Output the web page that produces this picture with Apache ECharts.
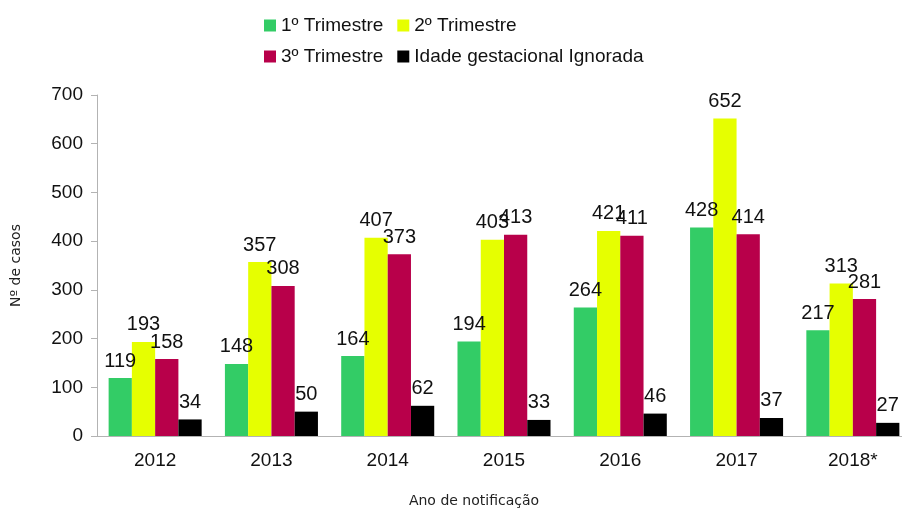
<!DOCTYPE html>
<html>
<head>
<meta charset="utf-8">
<script src="https://cdn.jsdelivr.net/npm/echarts@6/dist/echarts.min.js"></script>
<style>
  html, body { margin: 0; padding: 0; background: #fff; }
  #chart { width: 902px; height: 511px; }
</style>
</head>
<body>
<div id="chart"></div>
<script>
const years = ['2012', '2013', '2014', '2015', '2016', '2017', '2018*'];
const tri1 = [119, 148, 164, 194, 264, 428, 217];
const tri2 = [193, 357, 407, 403, 421, 652, 313];
const tri3 = [158, 308, 373, 413, 411, 414, 281];
const ignorada = [34, 50, 62, 33, 46, 37, 27];

const names = ['1º Trimestre', '2º Trimestre', '3º Trimestre', 'Idade gestacional Ignorada'];
const colors = ['#33cc66', '#e6ff00', '#b8004a', '#000000'];
const values = [tri1, tri2, tri3, ignorada];

const chart = echarts.init(document.getElementById('chart'));

const legendText = { fontFamily: 'Liberation Sans', fontSize: 19, color: '#111' };

chart.setOption({
  animation: false,
  legend: [
    {
      data: [names[0], names[1]],
      left: 259, top: 11,
      itemWidth: 12, itemHeight: 12, itemGap: 14,
      icon: 'rect',
      textStyle: legendText
    },
    {
      data: [names[2], names[3]],
      left: 259, top: 42,
      itemWidth: 12, itemHeight: 12, itemGap: 14,
      icon: 'rect',
      textStyle: legendText
    }
  ],
  grid: { left: 97, width: 814, top: 95, bottom: 75, outerBoundsMode: 'none' },
  xAxis: {
    type: 'category',
    data: years,
    name: 'Ano de notificação',
    nameLocation: 'middle',
    nameGap: 58,
    nameTextStyle: { fontFamily: 'DejaVu Sans', fontSize: 14, color: '#222', padding: [0, 0, 0, -60] },
    axisLine: { lineStyle: { color: '#b3b3b3' } },
    axisTick: { length: 8, lineStyle: { color: '#b3b3b3' } },
    axisLabel: { fontFamily: 'Liberation Sans', fontSize: 19, color: '#111', margin: 15 }
  },
  yAxis: {
    type: 'value',
    min: 0, max: 700, interval: 100,
    name: 'Nº de casos',
    nameLocation: 'middle',
    nameGap: 74,
    nameTextStyle: { fontFamily: 'DejaVu Sans', fontSize: 14, color: '#222' },
    axisLine: { show: true, lineStyle: { color: '#b3b3b3' } },
    axisTick: { show: true, length: 6, lineStyle: { color: '#b3b3b3' } },
    splitLine: { show: false },
    axisLabel: { fontFamily: 'Liberation Sans', fontSize: 19, color: '#111', margin: 14 }
  },
  series: names.map((name, i) => ({
    name: name,
    type: 'bar',
    data: values[i],
    barGap: '0%',
    barCategoryGap: '20%',
    itemStyle: { color: colors[i] },
    label: {
      show: true,
      position: 'top',
      distance: 7,
      fontFamily: 'Liberation Sans',
      fontSize: 20,
      color: '#111'
    }
  }))
});
</script>
</body>
</html>
